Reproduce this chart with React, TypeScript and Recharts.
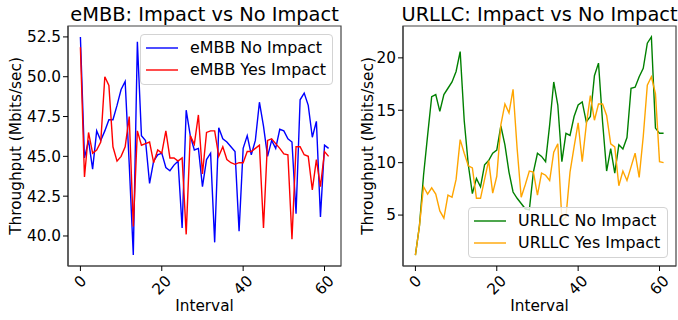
import React from 'react';
import { LineChart, Line, XAxis, YAxis, Legend, ReferenceArea } from 'recharts';

// ---------- data ----------
const embbNoImpact = [
  52.5, 44.9, 46.0, 44.2, 46.6, 46.0, 46.6, 47.3, 47.3, 48.2,
  49.2, 49.7, 44.5, 38.8, 52.2, 46.3, 46.0, 43.3, 44.7, 45.1,
  45.2, 44.3, 44.1, 44.45, 44.7, 40.5, 47.9, 46.3, 45.4, 45.5,
  43.1, 44.8, 45.2, 39.6, 46.8, 46.1, 45.9, 45.6, 45.3, 40.3,
  45.5, 46.3, 45.1, 46.0, 48.4, 46.9, 45.0, 46.0, 45.5, 46.7,
  46.6, 46.1, 45.9, 41.4, 48.55, 48.97, 48.2, 46.2, 47.2, 41.2,
  45.7, 45.5,
];
const embbYesImpact = [
  51.85, 43.7, 46.5, 45.2, 45.4, 45.9, 50.0, 49.45, 45.6, 44.7,
  45.0, 45.6, 47.5, 40.6, 46.6, 45.7, 45.8, 45.9, 44.6, 45.4,
  45.2, 46.6, 44.9, 44.9, 44.7, 44.9, 40.1, 46.3, 45.75, 47.6,
  43.9, 46.5, 46.6, 46.6, 45.0, 45.6, 44.8, 44.6, 44.5, 44.6,
  44.6, 45.3, 45.3, 45.5, 45.7, 40.5, 46.0, 46.1, 45.8, 45.5,
  45.15, 45.1, 39.8, 45.6, 45.6, 45.1, 45.0, 42.9, 44.8, 43.1,
  45.3, 45.0,
];
const urllcNoImpact = [
  1.18, 4.0, 8.8, 12.6, 16.3, 16.5, 14.9, 16.5, 17.1, 17.7,
  18.7, 20.6, 14.0, 9.8, 7.05, 8.5, 7.7, 9.8, 10.2, 10.9,
  11.2, 13.5, 11.7, 9.1, 7.2, 6.6, 6.1, 5.6, 5.5, 9.1,
  10.9, 10.6, 10.1, 13.6, 17.7, 15.5, 10.1, 12.8, 12.6, 14.4,
  15.5, 15.8, 13.9, 14.4, 18.3, 19.5, 13.9, 9.2, 11.35, 9.0,
  11.7, 11.3, 12.4, 17.1, 17.2, 18.2, 19.0, 21.4, 22.0, 13.3,
  12.8, 12.8,
];
const urllcYesImpact = [
  1.18, 4.0, 7.7, 7.0, 7.6, 7.0, 5.4, 4.7, 6.9, 6.7,
  8.4, 12.2, 10.9, 9.7, 9.5, 6.6, 6.6, 8.4, 10.2, 7.1,
  8.7, 13.6, 15.6, 14.75, 17.0, 11.35, 6.7, 7.9, 9.2, 9.1,
  6.9, 9.0, 8.8, 8.3, 11.0, 11.8, 4.5, 4.8, 9.1, 11.5,
  13.8, 10.1, 13.6, 16.4, 14.05, 15.6, 15.6, 14.5, 11.8, 11.5,
  7.8, 9.2, 8.3, 9.6, 10.9, 8.6, 12.5, 17.4, 18.2, 16.6,
  10.1, 10.0,
];
const xTicks = [0, 20, 40, 60];
const embbYTicks = [40, 42.5, 45, 47.5, 50, 52.5];
const urllcYTicks = [5, 10, 15, 20];

const embbData = embbNoImpact.map((v, i) => ({ interval: i, no: v, yes: embbYesImpact[i] }));
const urllcData = urllcNoImpact.map((v, i) => ({ interval: i, no: v, yes: urllcYesImpact[i] }));

// ---------- styling ----------
const FONT = '"DejaVu Sans", Verdana, sans-serif';
const FS = 15.3;
const LEGEND_FS = 15.9;
const TITLE_FS = 19.4;
const SPINE = '#444';
const X_DOMAIN: [number, number] = [-3.05, 64.05];

function XTick(props: any) {
  const { x, y, payload } = props;
  const label = String(payload.value);
  const w = label.length * 0.636 * FS;
  const d = (w + FS) * 0.3535;
  return (
    <text
      transform={`translate(${x},${y + d}) rotate(-45)`}
      textAnchor="middle"
      dominantBaseline="central"
      fontSize={FS}
      fontFamily={FONT}
      fill="#000"
    >
      {label}
    </text>
  );
}

function LegendBox(props: any) {
  const { payload } = props;
  return (
    <div
      style={{
        boxSizing: 'border-box',
        width: '100%',
        height: '100%',
        border: '1px solid #d3d3d3',
        borderRadius: 4,
        background: 'rgba(255,255,255,0.8)',
        padding: '2px 5px',
        fontFamily: FONT,
        fontSize: LEGEND_FS,
        color: '#000',
      }}
    >
      {(payload || []).map((p: any) => (
        <div key={p.value} style={{ display: 'flex', alignItems: 'center', height: 22, whiteSpace: 'nowrap' }}>
          <svg width={32} height={4} style={{ flex: 'none' }}>
            <line x1={0} y1={2} x2={32} y2={2} stroke={p.color} strokeWidth={1.4} />
          </svg>
          <span style={{ marginLeft: 12, lineHeight: '22px' }}>{p.value}</span>
        </div>
      ))}
    </div>
  );
}

function makeTitle(text: string) {
  return (p: any) => {
    const vb = p.viewBox || {};
    return (
      <text
        x={vb.x + vb.width / 2}
        y={vb.y - 5.5}
        textAnchor="middle"
        fontSize={TITLE_FS}
        fontFamily={FONT}
        fill="#000"
      >
        {text}
      </text>
    );
  };
}

function makeXLabel(text: string) {
  return (p: any) => {
    const vb = p.viewBox || {};
    return (
      <text x={vb.x + vb.width / 2} y={vb.y + 44.5} textAnchor="middle" fontSize={FS} fontFamily={FONT} fill="#000">
        {text}
      </text>
    );
  };
}

function makeYLabel(text: string, cx: number) {
  return (p: any) => {
    const vb = p.viewBox || {};
    const x = vb.x + cx;
    const y = vb.y + vb.height / 2;
    return (
      <text
        transform={`translate(${x},${y}) rotate(-90)`}
        textAnchor="middle"
        dominantBaseline="central"
        fontSize={FS}
        fontFamily={FONT}
        fill="#000"
      >
        {text}
      </text>
    );
  };
}

interface PanelProps {
  data: any[];
  width: number;
  yWidth: number;
  rightMargin: number;
  yDomain: [number, number];
  yTicks: number[];
  yFormat: (v: number) => string;
  title: string;
  names: [string, string];
  colors: [string, string];
  legendPos: { left: number; top: number; width: number; height: number };
  yLabelX: number;
}

function Panel(props: PanelProps) {
  const { data, width, yWidth, rightMargin, yDomain, yTicks, yFormat, title, names, colors, legendPos, yLabelX } = props;
  return (
    <LineChart width={width} height={320} data={data} margin={{ top: 26, right: rightMargin, bottom: 0, left: 0 }}>
      <XAxis
        dataKey="interval"
        type="number"
        domain={X_DOMAIN}
        allowDataOverflow
        ticks={xTicks}
        height={54}
        tickSize={5}
        tickMargin={2}
        tickLine={{ stroke: '#000' }}
        axisLine={{ stroke: SPINE, strokeWidth: 1.2 }}
        tick={<XTick />}
        interval={0}
        label={makeXLabel('Interval')}
      />
      <YAxis
        type="number"
        domain={yDomain}
        allowDataOverflow
        ticks={yTicks}
        width={yWidth}
        tickSize={5}
        tickMargin={2}
        interval={0}
        tickFormatter={yFormat}
        tickLine={{ stroke: '#000' }}
        axisLine={{ stroke: SPINE, strokeWidth: 1.2 }}
        tick={{ fill: '#000', fontSize: FS, fontFamily: FONT }}
        label={makeYLabel('Throughput (Mbits/sec)', yLabelX)}
      />
      <ReferenceArea
        x1={X_DOMAIN[0]}
        x2={X_DOMAIN[1]}
        y1={yDomain[0]}
        y2={yDomain[1]}
        ifOverflow="visible"
        fill="none"
        fillOpacity={0}
        stroke={SPINE}
        strokeWidth={1.2}
        label={makeTitle(title)}
      />
      <Line
        type="linear"
        dataKey="no"
        name={names[0]}
        stroke={colors[0]}
        strokeWidth={1.4}
        dot={false}
        activeDot={false}
        isAnimationActive={false}
      />
      <Line
        type="linear"
        dataKey="yes"
        name={names[1]}
        stroke={colors[1]}
        strokeWidth={1.4}
        dot={false}
        activeDot={false}
        isAnimationActive={false}
      />
      <Legend
        layout="vertical"
        verticalAlign="middle"
        align="center"
        content={<LegendBox />}
        wrapperStyle={{ position: 'absolute', ...legendPos }}
      />
    </LineChart>
  );
}

export default function App() {
  return (
    <div style={{ position: 'absolute', left: 0, top: 0, width: 678, height: 320, background: '#fff', fontFamily: FONT }}>
      <div style={{ position: 'absolute', left: 0, top: 0 }}>
        <Panel
          data={embbData}
          width={350}
          yWidth={68}
          rightMargin={9}
          yDomain={[38.115, 53.185]}
          yTicks={embbYTicks}
          yFormat={(v) => v.toFixed(1)}
          title="eMBB: Impact vs No Impact"
          names={['eMBB No Impact', 'eMBB Yes Impact']}
          colors={['#0000ff', '#ff0000']}
          legendPos={{ left: 140, top: 34, width: 193, height: 51 }}
          yLabelX={16}
        />
      </div>
      <div style={{ position: 'absolute', left: 350, top: 0 }}>
        <Panel
          data={urllcData}
          width={328}
          yWidth={53}
          rightMargin={2}
          yDomain={[0.14, 23.04]}
          yTicks={urllcYTicks}
          yFormat={(v) => String(v)}
          title="URLLC: Impact vs No Impact"
          names={['URLLC No Impact', 'URLLC Yes Impact']}
          colors={['#008000', '#ffa500']}
          legendPos={{ left: 118, top: 207, width: 200, height: 51 }}
          yLabelX={18}
        />
      </div>
    </div>
  );
}
